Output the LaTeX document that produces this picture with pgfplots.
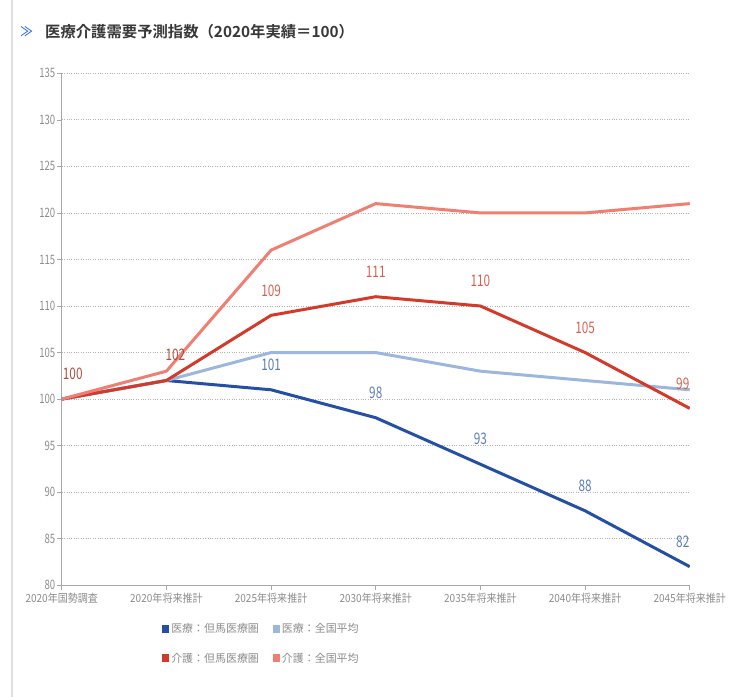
\documentclass[border=0pt]{standalone}
\usepackage{fontspec}
\usepackage{pgfplots}
\pgfplotsset{compat=1.18}
\setmainfont{Noto Sans CJK JP}[FakeStretch=0.74]
\newfontfamily\plainfont{Noto Sans CJK JP}
\newfontfamily\catfont{Noto Sans CJK JP}[FakeStretch=0.9]
\newfontfamily\titlefont{Noto Sans CJK JP}[BoldFont={* Bold}]

\definecolor{iryoT}{HTML}{2350A4}
\definecolor{iryoZ}{HTML}{9DB6DD}
\definecolor{kaigoT}{HTML}{D43A2A}
\definecolor{kaigoZ}{HTML}{EF7F72}
\definecolor{lblB}{HTML}{5A7DB5}
\definecolor{lblR}{HTML}{D9604F}
\definecolor{axgray}{HTML}{A8A8A8}
\definecolor{txtgray}{HTML}{8C8C8C}

\begin{document}
\begin{tikzpicture}[x=1bp,y=1bp]
\path[use as bounding box] (0,0) rectangle (733,697);
\draw[line width=1.5bp, black!13] (12,0) -- (12,697);
% heading
\node[anchor=west, inner sep=0pt, text=blue!70!cyan, font=\titlefont\fontsize{13}{13}\selectfont] at (20,665) {≫};
\node[anchor=west, inner sep=0pt, text=black!78, font=\titlefont\bfseries\fontsize{15.4}{15.4}\selectfont] at (45,665) {医療介護需要予測指数（2020年実績＝100）};

\begin{axis}[
  at={(59,120)}, anchor=south west,
  scale only axis, width=628bp, height=512bp,
  xmin=0, xmax=6, ymin=80, ymax=135,
  ytick={80,85,...,135},
  xtick={0,...,6},
  xticklabels={2020年国勢調査,2020年将来推計,2025年将来推計,2030年将来推計,2035年将来推計,2040年将来推計,2045年将来推計},
  axis x line*=bottom, axis y line*=left,
  axis line style={axgray, line width=0.8bp, -},
  tick style={axgray, line width=0.6bp},
  major tick length=5bp,
  xtick align=outside, ytick align=outside,
  ymajorgrids, major grid style={black!30, dotted, line width=0.8bp},
  /pgf/number format/assume math mode=true,
  tick label style={text=txtgray},
  yticklabel style={xshift=2bp, font=\fontsize{13}{13}\selectfont},
  xticklabel style={yshift=1bp, font=\catfont\fontsize{11.2}{11.2}\selectfont},
  legend columns=2,
  legend cell align=left,
  legend style={draw=none, fill=none, at={(0.155,-0.066)}, anchor=north west,
    font=\plainfont\fontsize{11}{11}\selectfont, text=txtgray, row sep=15bp,
    /tikz/every even column/.append style={column sep=12bp}},
  legend image code/.code={\fill[draw=none] (0bp,-4bp) rectangle (7bp,4bp);},
  every axis plot/.append style={line width=3bp, line join=round},
]
% 医療：但馬医療圏
\addplot[iryoT] coordinates {(0,100) (1,102) (2,101) (3,98) (4,93) (5,88) (6,82)};
% 医療：全国平均
\addplot[iryoZ] coordinates {(0,100) (1,102) (2,105) (3,105) (4,103) (5,102) (6,101)};
% 介護：但馬医療圏
\addplot[kaigoT] coordinates {(0,100) (1,102) (2,109) (3,111) (4,110) (5,105) (6,99)};
% 介護：全国平均
\addplot[kaigoZ] coordinates {(0,100) (1,103) (2,116) (3,121) (4,120) (5,120) (6,121)};
\legend{医療：但馬医療圏,医療：全国平均,介護：但馬医療圏,介護：全国平均}

% value labels
\begin{scope}[every node/.style={font=\fontsize{16}{16}\selectfont, inner sep=0pt}]
\node[text=lblB] at ([yshift=25bp]axis cs:2,101) {101};
\node[text=lblB] at ([yshift=25bp]axis cs:3,98) {98};
\node[text=lblB] at ([yshift=25bp]axis cs:4,93) {93};
\node[text=lblB] at ([yshift=25bp]axis cs:5,88) {88};
\node[text=lblB] at ([yshift=25bp,xshift=-7bp]axis cs:6,82) {82};
\node[text=lblR!80!black] at ([yshift=25bp,xshift=11bp]axis cs:0,100) {100};
\node[text=lblR!80!black] at ([yshift=26bp,xshift=9bp]axis cs:1,102) {102};
\node[text=lblR] at ([yshift=25bp]axis cs:2,109) {109};
\node[text=lblR] at ([yshift=25bp]axis cs:3,111) {111};
\node[text=lblR] at ([yshift=25bp]axis cs:4,110) {110};
\node[text=lblR] at ([yshift=25bp]axis cs:5,105) {105};
\node[text=lblR] at ([yshift=25bp,xshift=-7bp]axis cs:6,99) {99};
\end{scope}
\end{axis}
\end{tikzpicture}
\end{document}
